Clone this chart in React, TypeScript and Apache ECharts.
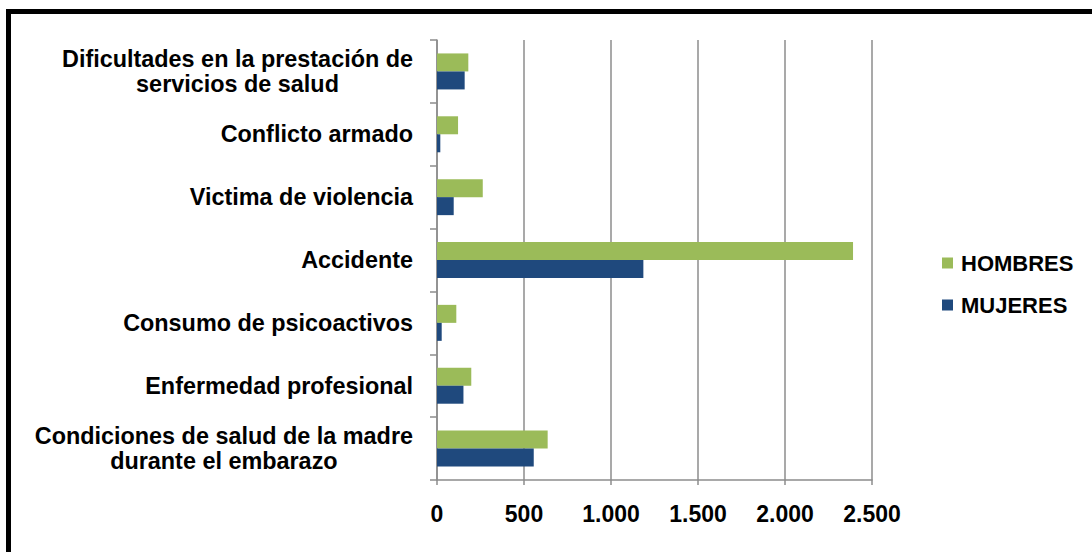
import React, { useEffect, useRef } from "react";
import * as echarts from "echarts";

const categories = [
  "Condiciones de salud de la madre\ndurante el embarazo",
  "Enfermedad profesional",
  "Consumo de psicoactivos",
  "Accidente",
  "Victima de violencia",
  "Conflicto armado",
  "Dificultades en la prestación de\nservicios de salud",
];
const hombres = [636, 197, 111, 2391, 263, 121, 180];
const mujeres = [556, 152, 27, 1186, 96, 19, 159];
const xTicks = [0, 500, 1000, 1500, 2000, 2500];

const FONT = '"Liberation Sans", Arial, sans-serif';
const GREEN = "#9BBB59";
const BLUE = "#1F497D";
const GRIDC = "#8C8C8C";
const LABEL_SIZE = 23.4;

function fmtThousands(v: number) {
  return String(v).replace(/\B(?=(\d{3})+(?!\d))/g, ".");
}

export default function App() {
  const ref = useRef<HTMLDivElement>(null);
  useEffect(() => {
    if (!ref.current) return;
    const chart = echarts.init(ref.current, null, { renderer: "svg" });
    chart.setOption({
      animation: false,
      backgroundColor: "#ffffff",
      textStyle: { fontFamily: FONT },
      grid: { left: 437, top: 40, width: 435, height: 440, containLabel: false },
      legend: {
        orient: "vertical",
        left: 937,
        top: 247,
        itemWidth: 11,
        itemHeight: 11,
        itemGap: 20,
        icon: "rect",
        data: ["HOMBRES", "MUJERES"],
        textStyle: {
          fontFamily: FONT,
          fontSize: 22,
          fontWeight: "bold",
          color: "#000",
          padding: [0, 0, 0, 3],
        },
      },
      xAxis: {
        type: "value",
        min: xTicks[0],
        max: xTicks[xTicks.length - 1],
        interval: 500,
        axisLine: { show: true, lineStyle: { color: GRIDC, width: 1.5 } },
        axisTick: { show: true, length: 5, lineStyle: { color: GRIDC, width: 1.5 } },
        splitLine: { show: true, lineStyle: { color: GRIDC, width: 1.5 } },
        axisLabel: {
          margin: 22,
          fontFamily: FONT,
          fontSize: 23,
          fontWeight: "bold",
          color: "#000",
          formatter: (v: number) => fmtThousands(v),
        },
      },
      yAxis: {
        type: "category",
        data: categories,
        axisLine: { show: true, lineStyle: { color: GRIDC, width: 1.5 } },
        axisTick: { show: true, length: 7, lineStyle: { color: GRIDC, width: 1.5 } },
        splitLine: { show: false },
        axisLabel: {
          margin: 24,
          fontFamily: FONT,
          fontSize: LABEL_SIZE,
          fontWeight: "bold",
          color: "#000",
          lineHeight: 25,
          formatter: (v: string) =>
            v.indexOf("\n") >= 0
              ? v
                  .split("\n")
                  .map((l) => `{c|${l}}`)
                  .join("\n")
              : v,
          rich: {
            c: {
              align: "center",
              fontFamily: FONT,
              fontSize: LABEL_SIZE,
              fontWeight: "bold",
              color: "#000",
              lineHeight: 25,
            },
          },
        },
      },
      series: [
        {
          name: "HOMBRES",
          type: "bar",
          data: hombres,
          barWidth: 18,
          barGap: "0%",
          itemStyle: { color: GREEN },
        },
        {
          name: "MUJERES",
          type: "bar",
          data: mujeres,
          barWidth: 18,
          barGap: "0%",
          itemStyle: { color: BLUE },
        },
      ],
      graphic: [
        {
          type: "rect",
          shape: { x: 8.5, y: 11.5, width: 2000, height: 2000 },
          style: { fill: "none", stroke: "#000", lineWidth: 5 },
          silent: true,
        },
      ],
    });
    return () => chart.dispose();
  }, []);
  return (
    <div
      ref={ref}
      style={{ position: "fixed", left: 0, top: 0, width: 1092, height: 552 }}
    />
  );
}
